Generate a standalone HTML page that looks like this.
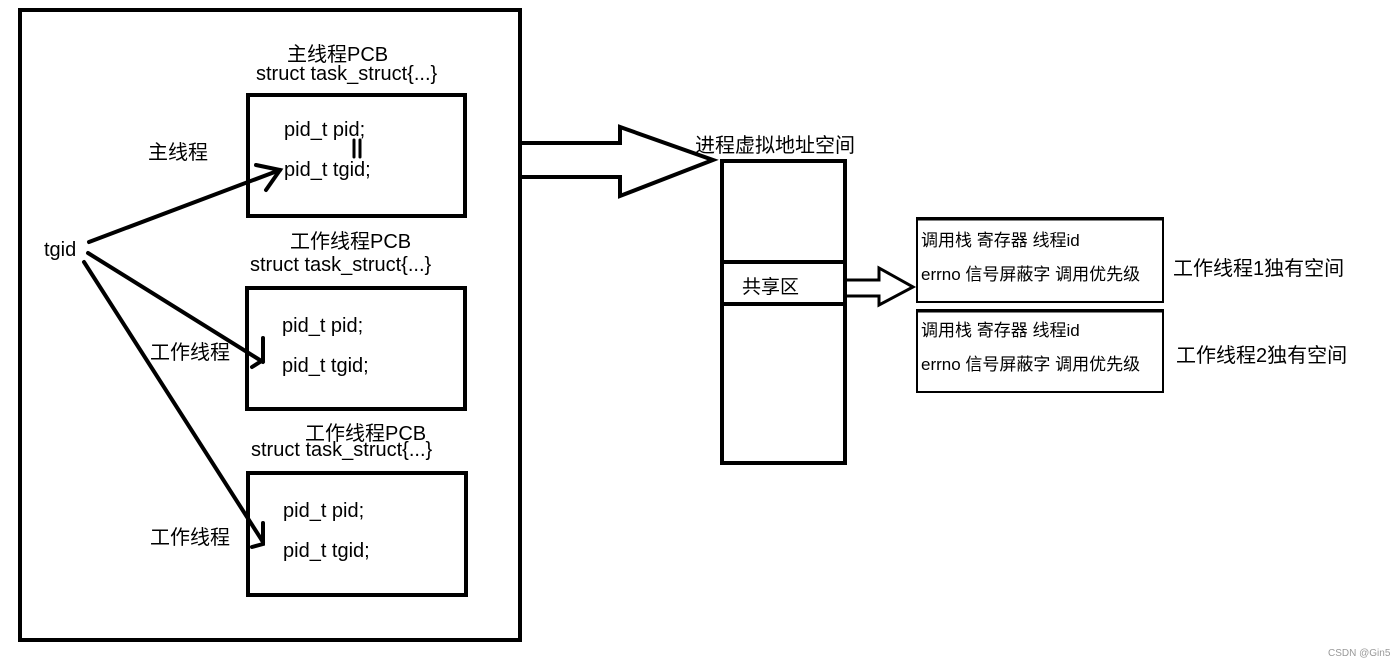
<!DOCTYPE html>
<html><head><meta charset="utf-8"><style>
html,body{margin:0;padding:0;background:#fff;}
svg{display:block;}
text{font-family:"Liberation Sans","Noto Sans CJK SC",sans-serif;fill:#000;}
</style></head><body>
<svg width="1400" height="666" viewBox="0 0 1400 666" xmlns="http://www.w3.org/2000/svg">
<rect width="1400" height="666" fill="#fff"/>
<g fill="none" stroke="#000" stroke-width="4">
<rect x="20" y="10" width="500" height="630"/>
<rect x="248" y="95" width="217" height="121"/>
<rect x="247" y="288" width="218" height="121"/>
<rect x="248" y="473" width="218" height="122"/>
<rect x="722" y="161" width="123" height="302"/>
<line x1="722" y1="262" x2="845" y2="262"/>
<line x1="722" y1="304" x2="845" y2="304"/>
<path d="M522 143 H620 V127 L713 160 L620 196 V177 H522" stroke-width="4"/>
<path d="M846 280 H879 V268 L913 287 L879 305 V296 H846" stroke-width="3"/>
</g>
<rect x="917" y="218" width="246" height="84" fill="none" stroke="#000" stroke-width="2"/>
<line x1="917" y1="219" x2="1163" y2="219" stroke="#000" stroke-width="3"/>
<rect x="917" y="310" width="246" height="82" fill="none" stroke="#000" stroke-width="2"/>
<line x1="917" y1="311" x2="1163" y2="311" stroke="#000" stroke-width="3"/>
<g stroke="#000" stroke-width="4" fill="none" stroke-linecap="round">
<line x1="89" y1="242" x2="280" y2="170"/>
<path d="M256 165 L280 170 L266 190"/>
<line x1="88" y1="253" x2="263" y2="362"/>
<path d="M263 338 V360 L252 367"/>
<line x1="84" y1="262" x2="263" y2="542"/>
<path d="M263 523 V544 L252 547"/>
<line x1="354" y1="140" x2="354" y2="157" stroke-width="3"/>
<line x1="360" y1="140" x2="360" y2="157" stroke-width="3"/>
</g>
<g font-size="20">
<text x="287" y="61">主线程PCB</text>
<text x="256" y="80">struct task_struct{...}</text>
<text x="284" y="136">pid_t pid;</text>
<text x="284" y="176">pid_t tgid;</text>
<text x="148" y="159">主线程</text>
<text x="44" y="256">tgid</text>
<text x="290" y="248">工作线程PCB</text>
<text x="250" y="271">struct task_struct{...}</text>
<text x="282" y="332">pid_t pid;</text>
<text x="282" y="372">pid_t tgid;</text>
<text x="150" y="359">工作线程</text>
<text x="305" y="440">工作线程PCB</text>
<text x="251" y="456">struct task_struct{...}</text>
<text x="283" y="517">pid_t pid;</text>
<text x="283" y="557">pid_t tgid;</text>
<text x="150" y="544">工作线程</text>
<text x="695" y="152">进程虚拟地址空间</text>
<text x="742" y="293" font-size="19">共享区</text>
<text x="1173" y="275">工作线程1独有空间</text>
<text x="1176" y="362">工作线程2独有空间</text>
</g>
<g font-size="17">
<text x="921" y="246">调用栈 寄存器 线程id</text>
<text x="921" y="280">errno 信号屏蔽字 调用优先级</text>
<text x="921" y="336">调用栈 寄存器 线程id</text>
<text x="921" y="370">errno 信号屏蔽字 调用优先级</text>
</g>
<text x="1328" y="656" font-size="10" style="fill:#999">CSDN @Gin5</text>
</svg>
</body></html>
